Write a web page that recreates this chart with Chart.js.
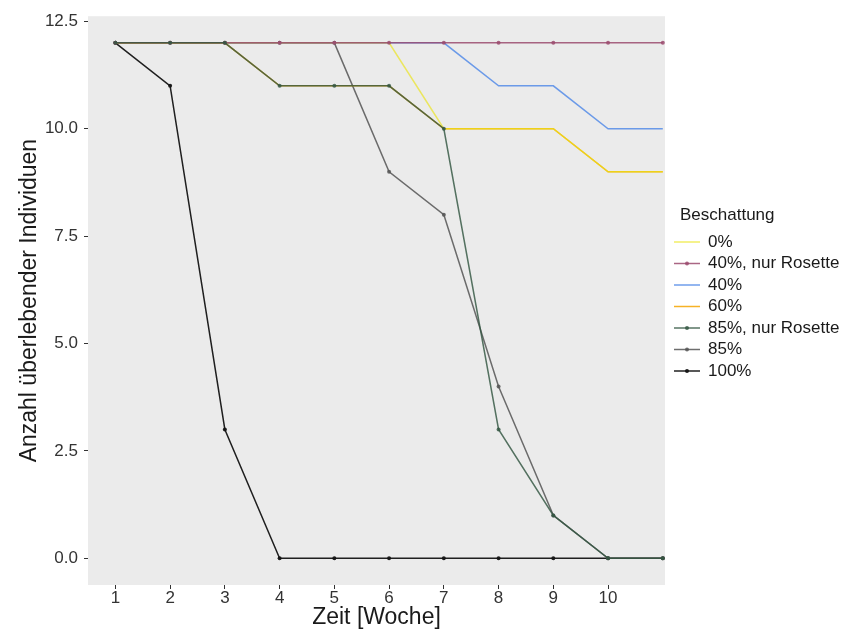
<!DOCTYPE html>
<html>
<head>
<meta charset="utf-8">
<script src="https://cdn.jsdelivr.net/npm/chart.js@4.4.1/dist/chart.umd.min.js"></script>
<style>
  body { margin: 0; background: #fff; }
</style>
</head>
<body>
<canvas id="myChart" width="845" height="632"></canvas>
<script>
// weeks and tick values
var weeks = [1, 2, 3, 4, 5, 6, 7, 8, 9, 10, 11];
var xTicks = [1, 2, 3, 4, 5, 6, 7, 8, 9, 10];
var yTicks = [0, 2.5, 5, 7.5, 10, 12.5];

// surviving individuals per group
var s0    = [12, 12, 12, 12, 12, 12, 10, 10, 10, 9, 9];
var s40r  = [12, 12, 12, 12, 12, 12, 12, 12, 12, 12, 12];
var s40   = [12, 12, 12, 12, 12, 12, 12, 11, 11, 10, 10];
var s60   = [12, 12, 12, 11, 11, 11, 10, 10, 10, 9, 9];
var s85r  = [12, 12, 12, 11, 11, 11, 10, 3, 1, 0, 0];
var s85   = [12, 12, 12, 12, 12, 9, 8, 4, 1, 0, 0];
var s100  = [12, 11, 3, 0, 0, 0, 0, 0, 0, 0, 0];

var names = ['0%', '40%, nur Rosette', '40%', '60%', '85%, nur Rosette', '85%', '100%'];
var series = [s0, s40r, s40, s60, s85r, s85, s100];
var colour = ['rgba(235, 228, 20, 0.65)',
              'rgba(155, 75, 110, 0.85)',
              'rgba(85, 140, 232, 0.85)',
              'rgba(245, 165, 0, 0.85)',
              'rgba(50, 85, 65, 0.82)',
              'rgba(85, 85, 85, 0.85)',
              'rgba(20, 20, 20, 0.95)'];
var withPoints = [false, true, false, false, true, true, true];
var drawOrder = [3, 2, 5, 4, 1, 6, 7]; // lower = drawn on top

var FONT = "'Liberation Sans', Arial, sans-serif";
Chart.defaults.font.family = FONT;

var datasets = series.map(function(s, i) {
    return {
        label: names[i],
        data: s.map(function(v, j) { return {x: weeks[j], y: v}; }),
        borderColor: colour[i],
        backgroundColor: colour[i],
        borderWidth: 1.5,
        pointRadius: withPoints[i] ? 2 : 0,
        pointBorderWidth: 0,
        pointBackgroundColor: colour[i],
        tension: 0,
        fill: false,
        order: drawOrder[i]
    };
});

var panel = {
    id: 'panel',
    beforeDraw: function(chart) {
        var a = chart.chartArea, c = chart.ctx;
        c.save();
        c.fillStyle = '#EBEBEB';
        c.fillRect(a.left, a.top, a.right - a.left, a.bottom - a.top);
        c.restore();
    },
    afterDraw: function(chart) {
        var a = chart.chartArea, c = chart.ctx;
        c.save();
        c.fillStyle = '#1a1a1a';
        c.textAlign = 'center';
        c.textBaseline = 'middle';
        c.font = '23px ' + FONT;
        c.fillText('Zeit [Woche]', (a.left + a.right) / 2, 618);
        c.translate(30, (a.top + a.bottom) / 2);
        c.rotate(-Math.PI / 2);
        c.fillText('Anzahl überlebender Individuen', 0, 0);
        c.restore();

        // legend
        c.save();
        c.textAlign = 'left';
        c.textBaseline = 'middle';
        c.fillStyle = '#1a1a1a';
        c.font = '17px ' + FONT;
        c.fillText('Beschattung', 680, 215);
        for (var i = 0; i < names.length; i++) {
            var y = 242 + i * 21.5;
            c.strokeStyle = colour[i];
            c.lineWidth = 1.5;
            c.beginPath();
            c.moveTo(674, y);
            c.lineTo(700, y);
            c.stroke();
            if (withPoints[i]) {
                c.fillStyle = colour[i];
                c.beginPath();
                c.arc(687, y, 2, 0, Math.PI * 2);
                c.fill();
            }
            c.fillStyle = '#1a1a1a';
            c.fillText(names[i], 708, y);
        }
        c.restore();
    }
};

var ctx = document.getElementById('myChart').getContext('2d');
var myChart = new Chart(ctx, {
    type: 'line',
    data: { datasets: datasets },
    options: {
        responsive: false,
        animation: false,
        layout: { padding: { top: 12, right: 180, left: 0, bottom: 0 } },
        plugins: { legend: { display: false }, tooltip: { enabled: false } },
        scales: {
            x: {
                type: 'linear',
                min: 0.5,
                max: 11.04,
                afterBuildTicks: function(axis) {
                    axis.ticks = xTicks.map(function(v) { return {value: v}; });
                },
                afterFit: function(axis) { axis.height = 47; },
                grid: { drawOnChartArea: false, drawTicks: true, tickLength: 4, color: '#333' },
                border: { display: false },
                ticks: { color: '#333', font: { size: 17 }, padding: -1, maxRotation: 0, autoSkip: false }
            },
            y: {
                type: 'linear',
                min: -0.62,
                max: 12.62,
                afterBuildTicks: function(axis) {
                    axis.ticks = yTicks.map(function(v) { return {value: v}; });
                },
                afterFit: function(axis) { axis.width = 88; },
                grid: { drawOnChartArea: false, drawTicks: true, tickLength: 4, color: '#333' },
                border: { display: false },
                ticks: {
                    color: '#333', font: { size: 17 }, padding: 6,
                    callback: function(v) { return Number(v).toFixed(1); }
                }
            }
        }
    },
    plugins: [panel]
});
</script>
</body>
</html>
